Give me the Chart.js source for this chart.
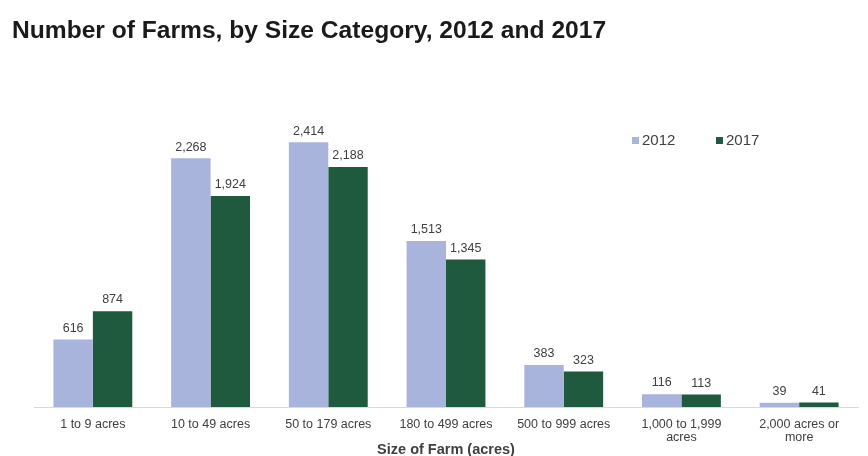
<!DOCTYPE html>
<html>
<head>
<meta charset="utf-8">
<script src="https://cdn.jsdelivr.net/npm/chart.js@4"></script>
<style>
  html, body { margin: 0; padding: 0; background: #fff; }
  #wrap { width: 868px; height: 456px; }
</style>
</head>
<body>
<div id="wrap"><canvas id="farmChart" width="868" height="456"></canvas></div>
<script>
const categories = [
  "1 to 9 acres",
  "10 to 49 acres",
  "50 to 179 acres",
  "180 to 499 acres",
  "500 to 999 acres",
  ["1,000 to 1,999", "acres"],
  ["2,000 acres or", "more"],
];
const farms2012 = [616, 2268, 2414, 1513, 383, 116, 39];
const farms2017 = [874, 1924, 2188, 1345, 323, 113, 41];

const FONT = "'Liberation Sans', Arial, sans-serif";

// labels on top of each bar
const valueLabels = {
  id: "valueLabels",
  afterDatasetsDraw(chart) {
    const ctx = chart.ctx;
    ctx.save();
    ctx.font = "12.5px " + FONT;
    ctx.fillStyle = "#404040";
    ctx.textAlign = "center";
    ctx.textBaseline = "bottom";
    chart.data.datasets.forEach((ds, i) => {
      chart.getDatasetMeta(i).data.forEach((bar, j) => {
        ctx.fillText(ds.data[j].toLocaleString("en-US"), bar.x, bar.y - 5);
      });
    });
    ctx.restore();
  },
};

// small legend sitting inside the plot, upper right
const insideLegend = {
  id: "insideLegend",
  afterDraw(chart) {
    const ctx = chart.ctx;
    const starts = [632, 716];
    const y = chart.chartArea.top + 23;
    ctx.save();
    ctx.font = "15px " + FONT;
    ctx.textBaseline = "middle";
    chart.data.datasets.forEach((ds, i) => {
      ctx.fillStyle = ds.backgroundColor;
      ctx.fillRect(starts[i], y - 3.5, 7, 7);
      ctx.fillStyle = "#404040";
      ctx.fillText(ds.label, starts[i] + 10, y + 0.5);
    });
    ctx.restore();
  },
};

new Chart(document.getElementById("farmChart"), {
  type: "bar",
  data: {
    labels: categories,
    datasets: [
      { label: "2012", data: farms2012, backgroundColor: "#a9b4dc" },
      { label: "2017", data: farms2017, backgroundColor: "#1f5a3f" },
    ],
  },
  options: {
    responsive: false,
    animation: false,
    layout: { padding: { left: 12, right: 10, top: 0, bottom: 0 } },
    datasets: { bar: { categoryPercentage: 0.67, barPercentage: 1 } },
    plugins: {
      title: {
        display: true,
        text: "Number of Farms, by Size Category, 2012 and 2017",
        align: "start",
        color: "#1a1a1a",
        font: { family: FONT, size: 24.6, weight: "bold" },
        padding: { top: 16, bottom: 72 },
      },
      legend: { display: false },
      tooltip: { enabled: false },
    },
    scales: {
      x: {
        grid: { display: false },
        border: { color: "#d9d9d9" },
        ticks: {
          color: "#404040",
          font: { family: FONT, size: 12.5, lineHeight: 1.0 },
          maxRotation: 0,
          autoSkip: false,
          padding: 3.5,
        },
        title: {
          display: true,
          text: "Size of Farm (acres)",
          color: "#404040",
          font: { family: FONT, size: 14.5, weight: "bold", lineHeight: 1.0 },
          padding: { top: -4.5, bottom: -1 },
        },
      },
      y: {
        min: 0,
        max: 2640,
        grid: { display: false },
        border: { display: false },
        ticks: { display: false },
        afterFit: (scale) => { scale.width = 22; },
      },
    },
  },
  plugins: [valueLabels, insideLegend],
});
</script>
</body>
</html>
